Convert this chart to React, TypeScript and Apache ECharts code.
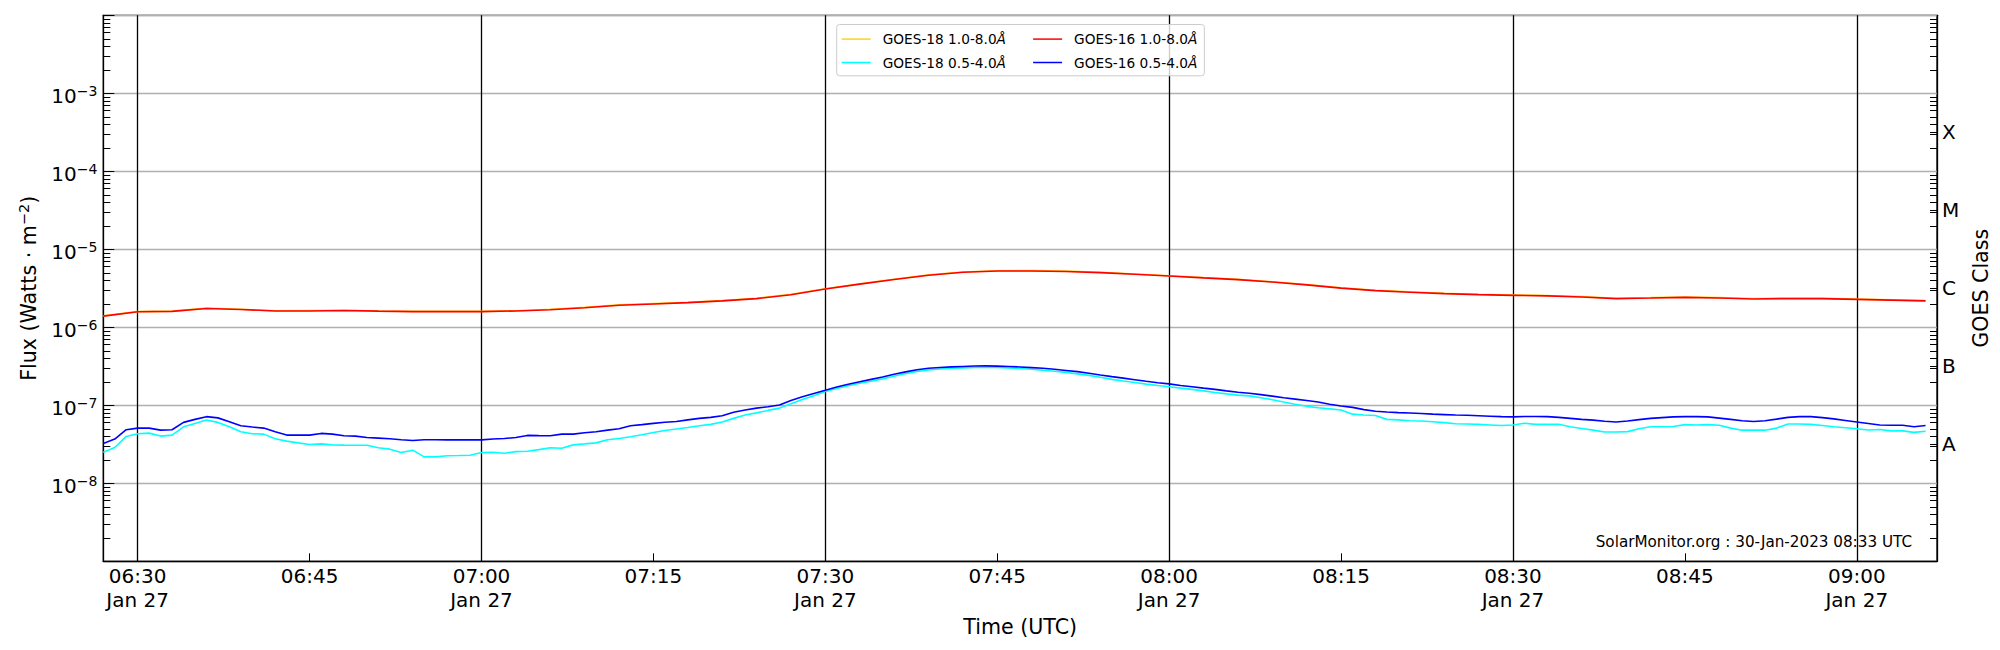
import React, { useEffect, useRef } from "react";
import * as echarts from "echarts";

const FONT = "'DejaVu Sans', 'Noto Sans', sans-serif";

// Time window (UTC, 27 Jan 2023)
const DATE_LABEL = "Jan 27";
const X_START = "06:27";
const X_END = "09:07";
const SHORT_START = "06:27"; // 1-minute cadence
const LONG_START = "06:27"; // 3-minute cadence
const SHORT_STEP_MIN = 1;
const LONG_STEP_MIN = 3;

// Tick labels
const QUARTER_TICKS = ["06:30", "06:45", "07:00", "07:15", "07:30", "07:45", "08:00", "08:15", "08:30", "08:45", "09:00"];
const HALF_HOUR_LINES = ["06:30", "07:00", "07:30", "08:00", "08:30", "09:00"];
const CLASS_LETTERS = ["A", "B", "C", "M", "X"];
const CLASS_CENTER_EXP = [-7.5, -6.5, -5.5, -4.5, -3.5];
const Y_MIN_EXP = -9;
const Y_MAX_EXP = -2;

const SERIES_NAMES = ["GOES-18 1.0-8.0Å", "GOES-18 0.5-4.0Å", "GOES-16 1.0-8.0Å", "GOES-16 0.5-4.0Å"];
const SERIES_COLORS = ["#ffd11a", "#00ffff", "#ff0000", "#0000ff"];

// GOES-18 1.0-8.0 Å (W m^-2), 3-min cadence from 06:27
const goes18Long = [
  1.40e-6, 1.59e-6, 1.61e-6, 1.76e-6, 1.70e-6, 1.63e-6, 1.64e-6, 1.65e-6, 1.62e-6, 1.60e-6, 1.60e-6,
  1.60e-6, 1.63e-6, 1.70e-6, 1.80e-6, 1.94e-6, 2.01e-6, 2.09e-6, 2.20e-6, 2.36e-6, 2.65e-6,
  3.12e-6, 3.62e-6, 4.14e-6, 4.70e-6, 5.12e-6, 5.32e-6, 5.33e-6, 5.25e-6, 5.08e-6, 4.82e-6,
  4.59e-6, 4.34e-6, 4.12e-6, 3.84e-6, 3.53e-6, 3.21e-6, 2.98e-6, 2.85e-6, 2.73e-6, 2.65e-6,
  2.60e-6, 2.56e-6, 2.47e-6, 2.36e-6, 2.40e-6, 2.45e-6, 2.40e-6, 2.34e-6, 2.36e-6, 2.35e-6,
  2.30e-6, 2.25e-6, 2.20e-6,
];

// GOES-16 1.0-8.0 Å (W m^-2), 3-min cadence from 06:27
const goes16Long = [
  1.39e-6, 1.58e-6, 1.60e-6, 1.74e-6, 1.69e-6, 1.62e-6, 1.62e-6, 1.64e-6, 1.61e-6, 1.59e-6, 1.59e-6,
  1.59e-6, 1.62e-6, 1.68e-6, 1.78e-6, 1.92e-6, 1.99e-6, 2.07e-6, 2.18e-6, 2.33e-6, 2.62e-6,
  3.10e-6, 3.58e-6, 4.10e-6, 4.65e-6, 5.07e-6, 5.27e-6, 5.28e-6, 5.20e-6, 5.03e-6, 4.78e-6,
  4.55e-6, 4.30e-6, 4.08e-6, 3.80e-6, 3.50e-6, 3.18e-6, 2.95e-6, 2.82e-6, 2.70e-6, 2.62e-6,
  2.57e-6, 2.53e-6, 2.45e-6, 2.33e-6, 2.37e-6, 2.42e-6, 2.37e-6, 2.31e-6, 2.34e-6, 2.33e-6,
  2.28e-6, 2.23e-6, 2.18e-6,
];

// GOES-18 0.5-4.0 Å (W m^-2), 1-min cadence from 06:27
const goes18Short = [
  2.5e-8, 2.88e-8, 3.99e-8,
  4.32e-8, 4.4e-8, 4.03e-8, 4.15e-8, 5.3e-8, 5.86e-8, 6.47e-8, 6.04e-8, 5.3e-8, 4.58e-8,
  4.32e-8, 4.27e-8, 3.72e-8, 3.47e-8, 3.3e-8, 3.15e-8, 3.2e-8, 3.11e-8, 3.09e-8, 3.08e-8,
  3.08e-8, 2.85e-8, 2.74e-8, 2.48e-8, 2.66e-8, 2.18e-8, 2.18e-8, 2.26e-8, 2.27e-8, 2.29e-8,
  2.48e-8, 2.5e-8, 2.43e-8, 2.55e-8, 2.58e-8, 2.7e-8, 2.85e-8, 2.82e-8, 3.11e-8, 3.2e-8,
  3.3e-8, 3.61e-8, 3.75e-8, 3.95e-8, 4.2e-8, 4.49e-8, 4.75e-8, 4.96e-8, 5.2e-8, 5.47e-8,
  5.7e-8, 6.1e-8, 6.8e-8, 7.5e-8, 8.0e-8, 8.6e-8, 9.2e-8, 1.05e-7, 1.19e-7, 1.33e-7,
  1.50e-7, 1.64e-7, 1.78e-7, 1.92e-7, 2.03e-7, 2.18e-7, 2.36e-7, 2.55e-7, 2.72e-7, 2.84e-7,
  2.92e-7, 2.98e-7, 3.02e-7, 3.06e-7, 3.07e-7, 3.05e-7, 3.01e-7, 2.96e-7, 2.90e-7, 2.81e-7,
  2.73e-7, 2.64e-7, 2.53e-7, 2.42e-7, 2.29e-7, 2.15e-7, 2.05e-7, 1.96e-7, 1.87e-7, 1.79e-7,
  1.73e-7, 1.66e-7, 1.60e-7, 1.53e-7, 1.46e-7, 1.40e-7, 1.35e-7, 1.32e-7, 1.25e-7, 1.18e-7,
  1.10e-7, 1.03e-7, 9.7e-8, 9.3e-8, 9.0e-8, 8.7e-8, 7.7e-8, 7.5e-8, 7.4e-8, 6.6e-8,
  6.5e-8, 6.35e-8, 6.3e-8, 6.15e-8, 6.0e-8, 5.8e-8, 5.75e-8, 5.7e-8, 5.6e-8, 5.5e-8,
  5.6e-8, 5.9e-8, 5.7e-8, 5.7e-8, 5.7e-8, 5.3e-8, 5.05e-8, 4.8e-8, 4.55e-8, 4.55e-8,
  4.6e-8, 5.0e-8, 5.3e-8, 5.3e-8, 5.35e-8, 5.65e-8, 5.6e-8, 5.65e-8, 5.55e-8, 5.1e-8,
  4.8e-8, 4.8e-8, 4.8e-8, 5.1e-8, 5.76e-8, 5.76e-8, 5.7e-8, 5.5e-8, 5.3e-8, 5.15e-8,
  5.0e-8, 4.83e-8, 4.9e-8, 4.7e-8, 4.7e-8, 4.5e-8, 4.65e-8,
];

// GOES-16 0.5-4.0 Å (W m^-2), 1-min cadence from 06:27
const goes16Short = [
  3.24e-8, 3.69e-8, 4.86e-8,
  5.1e-8, 5.1e-8, 4.81e-8, 4.86e-8, 6.04e-8, 6.6e-8, 7.15e-8, 6.9e-8, 6.17e-8, 5.47e-8,
  5.26e-8, 5.1e-8, 4.58e-8, 4.15e-8, 4.15e-8, 4.15e-8, 4.36e-8, 4.27e-8, 4.07e-8, 4.03e-8,
  3.87e-8, 3.8e-8, 3.72e-8, 3.62e-8, 3.54e-8, 3.61e-8, 3.61e-8, 3.6e-8, 3.62e-8, 3.6e-8,
  3.6e-8, 3.69e-8, 3.75e-8, 3.87e-8, 4.11e-8, 4.08e-8, 4.07e-8, 4.27e-8, 4.27e-8, 4.45e-8,
  4.58e-8, 4.8e-8, 5.0e-8, 5.47e-8, 5.65e-8, 5.86e-8, 6.05e-8, 6.2e-8, 6.5e-8, 6.8e-8,
  7.0e-8, 7.36e-8, 8.13e-8, 8.7e-8, 9.2e-8, 9.6e-8, 1.01e-7, 1.15e-7, 1.29e-7, 1.42e-7,
  1.56e-7, 1.72e-7, 1.86e-7, 2.00e-7, 2.15e-7, 2.30e-7, 2.50e-7, 2.68e-7, 2.85e-7, 2.98e-7,
  3.05e-7, 3.11e-7, 3.15e-7, 3.19e-7, 3.20e-7, 3.18e-7, 3.15e-7, 3.10e-7, 3.04e-7, 2.98e-7,
  2.90e-7, 2.80e-7, 2.70e-7, 2.58e-7, 2.45e-7, 2.33e-7, 2.23e-7, 2.13e-7, 2.03e-7, 1.95e-7,
  1.88e-7, 1.79e-7, 1.73e-7, 1.66e-7, 1.60e-7, 1.53e-7, 1.47e-7, 1.43e-7, 1.37e-7, 1.31e-7,
  1.25e-7, 1.20e-7, 1.15e-7, 1.10e-7, 1.03e-7, 9.8e-8, 9.4e-8, 8.8e-8, 8.4e-8, 8.2e-8,
  8.05e-8, 7.95e-8, 7.85e-8, 7.7e-8, 7.6e-8, 7.5e-8, 7.45e-8, 7.35e-8, 7.25e-8, 7.15e-8,
  7.1e-8, 7.2e-8, 7.2e-8, 7.15e-8, 7.0e-8, 6.8e-8, 6.6e-8, 6.45e-8, 6.25e-8, 6.1e-8,
  6.3e-8, 6.55e-8, 6.8e-8, 6.95e-8, 7.1e-8, 7.15e-8, 7.16e-8, 7.1e-8, 6.85e-8, 6.6e-8,
  6.35e-8, 6.2e-8, 6.35e-8, 6.65e-8, 7.0e-8, 7.15e-8, 7.16e-8, 6.95e-8, 6.7e-8, 6.4e-8,
  6.1e-8, 5.85e-8, 5.6e-8, 5.55e-8, 5.55e-8, 5.3e-8, 5.5e-8,
];

const FOOTER = "SolarMonitor.org : 30-Jan-2023 08:33 UTC";

// ---- helpers ----
const toMs = (hhmm: string) => {
  const [h, m] = hhmm.split(":").map(Number);
  return Date.UTC(2023, 0, 27, h, m);
};
const pad2 = (n: number) => String(n).padStart(2, "0");
const timeLabel = (v: number) => {
  const d = new Date(v);
  const h = d.getUTCHours();
  const m = d.getUTCMinutes();
  const s = `${pad2(h)}:${pad2(m)}`;
  return m % 30 === 0 ? `${s}\n${DATE_LABEL}` : s;
};
const withTimes = (startHHMM: string, stepMin: number, values: number[]) => {
  const t0 = toMs(startHHMM);
  return values.map((v, i) => [t0 + i * stepMin * 60000, v]);
};

const minorLogTicks: number[] = [];
for (let e = Y_MIN_EXP; e < Y_MAX_EXP; e++) {
  for (let k = 2; k <= 9; k++) minorLogTicks.push(e + Math.log10(k));
}

const TICK_FS = 20;
const NAME_FS = 20.6;
const SUP_FS = 14;
const LEGEND_FS = 13.7;

const richSup = {
  b: { fontSize: TICK_FS, fontFamily: FONT, color: "#000", lineHeight: 24 },
  s: { fontSize: SUP_FS, fontFamily: FONT, color: "#000", lineHeight: 12, verticalAlign: "top" },
};
const richName = {
  b: { fontSize: NAME_FS, fontFamily: FONT, color: "#000", lineHeight: 25 },
  s: { fontSize: 14.5, fontFamily: FONT, color: "#000", lineHeight: 12, verticalAlign: "top" },
};

function buildOption() {
  const seriesData = [
    withTimes(LONG_START, LONG_STEP_MIN, goes18Long),
    withTimes(SHORT_START, SHORT_STEP_MIN, goes18Short),
    withTimes(LONG_START, LONG_STEP_MIN, goes16Long),
    withTimes(SHORT_START, SHORT_STEP_MIN, goes16Short),
  ];
  const xMin = toMs(X_START);
  const xMax = toMs(X_END);

  return {
    animation: false,
    backgroundColor: "#ffffff",
    textStyle: { fontFamily: FONT },
    grid: {
      left: 103.3,
      right: 63,
      top: 15.3,
      bottom: 88.7,
      show: true,
      borderColor: "#000",
      borderWidth: 1.3,
      backgroundColor: "transparent",
    },
    legend: {
      orient: "vertical",
      left: 836.7,
      top: 24.5,
      height: 40,
      padding: [7.6, 7, 6.3, 5],
      itemGap: 9.4,
      itemWidth: 29,
      itemHeight: 14,
      icon: "path://M0,0L29,0L29,1.5L0,1.5Z",
      backgroundColor: "rgba(255,255,255,0.8)",
      borderColor: "#cccccc",
      borderWidth: 1,
      borderRadius: 3,
      selectedMode: false,
      data: [
        { name: SERIES_NAMES[0], textStyle: { width: 141 } },
        { name: SERIES_NAMES[1], textStyle: { width: 141 } },
        { name: SERIES_NAMES[2] },
        { name: SERIES_NAMES[3] },
      ],
      formatter: (name: string) => `{t|${name.slice(0, -1)}}{i|${name.slice(-1)}}`,
      textStyle: {
        fontSize: LEGEND_FS,
        lineHeight: 14,
        color: "#000",
        padding: [0, 0, 0, 7],
        rich: {
          t: { fontSize: LEGEND_FS, fontFamily: FONT, color: "#000", lineHeight: 14 },
          i: { fontSize: LEGEND_FS, fontFamily: FONT, color: "#000", lineHeight: 14, fontStyle: "italic" },
        },
      },
    },
    xAxis: [
      {
        type: "value",
        min: xMin,
        max: xMax,
        position: "bottom",
        name: "Time (UTC)",
        nameLocation: "middle",
        nameGap: 50,
        nameTextStyle: { fontSize: NAME_FS, color: "#000", fontFamily: FONT },
        axisLine: { show: true, lineStyle: { color: "#000", width: 1.3 } },
        axisTick: {
          show: true,
          inside: true,
          length: 8,
          lineStyle: { color: "#000", width: 1 },
          customValues: QUARTER_TICKS.map(toMs),
        },
        axisLabel: {
          customValues: QUARTER_TICKS.map(toMs),
          formatter: (v: number) => timeLabel(v),
          fontSize: TICK_FS,
          lineHeight: 23.5,
          color: "#000",
          fontFamily: FONT,
          margin: 3,
          hideOverlap: false,
        },
        splitLine: { show: false },
      },
      {
        type: "value",
        min: xMin,
        max: xMax,
        position: "bottom",
        axisLine: { show: false },
        axisTick: { show: false, customValues: HALF_HOUR_LINES.map(toMs) },
        axisLabel: { show: false },
        splitLine: { show: true, lineStyle: { color: "#000", width: 1.3 } },
      },
    ],
    yAxis: [
      {
        type: "log",
        logBase: 10,
        min: Math.pow(10, Y_MIN_EXP),
        max: Math.pow(10, Y_MAX_EXP),
        position: "left",
        name: "{b|Flux (Watts · m}{s|−2}{b|)}",
        nameLocation: "middle",
        nameGap: 62,
        nameRotate: 90,
        nameTextStyle: { rich: richName },
        axisLine: { show: true, lineStyle: { color: "#000", width: 1.3 } },
        axisTick: { show: true, inside: true, length: 11, lineStyle: { color: "#000", width: 1 } },
        axisLabel: {
          margin: 6,
          padding: [6, 0, 0, 0],
          formatter: (v: number) => {
            const e = Math.round(Math.log10(v));
            if (e <= Y_MIN_EXP || e >= Y_MAX_EXP) return "";
            return `{b|10}{s|−${-e}}`;
          },
          rich: richSup,
        },
        splitLine: { show: true, lineStyle: { color: "#b0b0b0", width: 1.3 } },
        minorTick: { show: false },
      },
      {
        type: "value",
        min: Y_MIN_EXP,
        max: Y_MAX_EXP,
        position: "left",
        axisLine: { show: false },
        axisTick: {
          show: true,
          inside: true,
          length: 7,
          lineStyle: { color: "#000", width: 1 },
          customValues: minorLogTicks,
        },
        axisLabel: { show: false },
        splitLine: { show: false },
      },
      {
        type: "value",
        min: Y_MIN_EXP,
        max: Y_MAX_EXP,
        position: "right",
        name: "GOES Class",
        nameLocation: "middle",
        nameGap: 24,
        nameTextStyle: { fontSize: NAME_FS, color: "#000", fontFamily: FONT },
        axisLine: { show: true, lineStyle: { color: "#000", width: 1.3 } },
        axisTick: {
          show: true,
          inside: true,
          length: 7,
          lineStyle: { color: "#000", width: 1 },
          customValues: [...minorLogTicks, ...CLASS_CENTER_EXP],
        },
        axisLabel: {
          customValues: CLASS_CENTER_EXP,
          formatter: (v: number) => {
            const idx = CLASS_CENTER_EXP.findIndex((c) => Math.abs(c - v) < 1e-6);
            return idx >= 0 ? CLASS_LETTERS[idx] : "";
          },
          fontSize: TICK_FS,
          color: "#000",
          fontFamily: FONT,
          margin: 5,
        },
        splitLine: { show: false },
      },
    ],
    graphic: [
      {
        type: "text",
        right: 88,
        top: 534,
        style: { text: FOOTER, fontSize: 15.2, fill: "#000", fontFamily: FONT },
      },
    ],
    series: SERIES_NAMES.map((name, i) => ({
      name,
      type: "line",
      xAxisIndex: 0,
      yAxisIndex: 0,
      data: seriesData[i],
      symbol: "none",
      showSymbol: false,
      smooth: false,
      lineStyle: { color: SERIES_COLORS[i], width: 1.6 },
      itemStyle: { color: SERIES_COLORS[i] },
      z: 3 + i,
    })),
  };
}

export default function App() {
  const ref = useRef<HTMLDivElement>(null);
  useEffect(() => {
    if (!ref.current) return;
    const chart = echarts.init(ref.current, null, { renderer: "svg" });
    chart.setOption(buildOption() as any);
    return () => chart.dispose();
  }, []);
  return (
    <div
      ref={ref}
      style={{ position: "fixed", left: 0, top: 0, width: 2000, height: 650, background: "#fff" }}
    />
  );
}
